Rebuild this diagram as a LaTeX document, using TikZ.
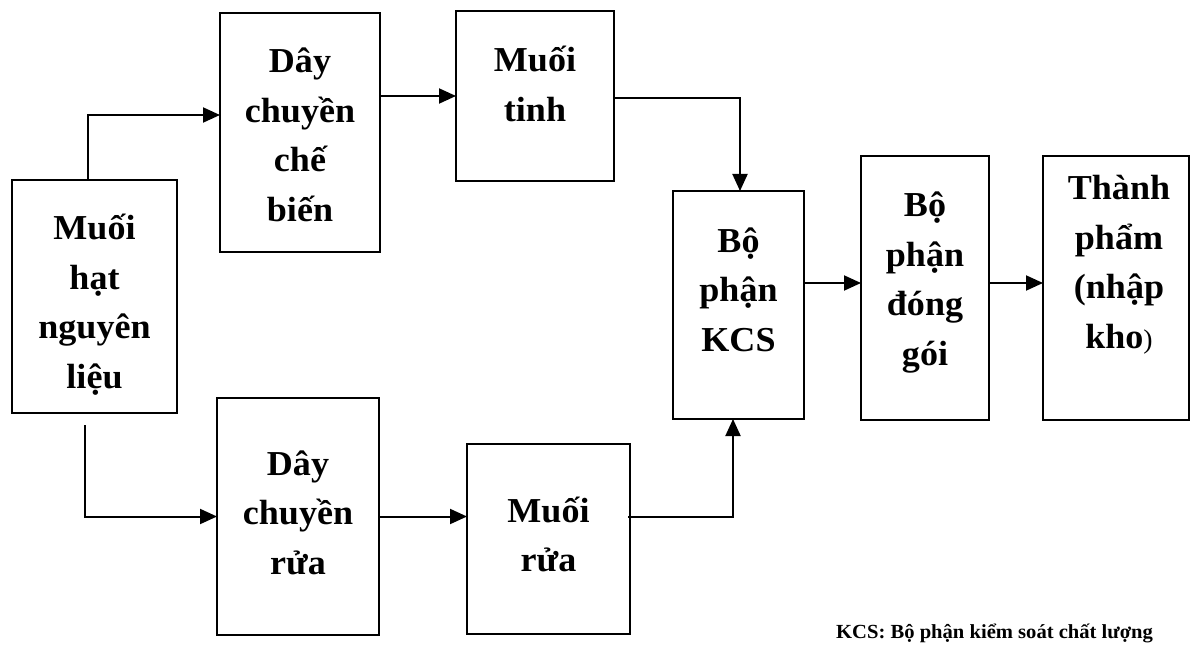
\documentclass[tikz,border=0pt]{standalone}
\usepackage{fontspec}
\setmainfont{Liberation Serif}[FakeStretch=1.03]
\usetikzlibrary{arrows.meta}
\tikzset{
  box/.style={draw, line width=2pt, inner sep=0pt, outer sep=0pt},
  txt/.style={font=\bfseries\fontsize{35}{49.5}\selectfont, align=center, inner sep=0pt, anchor=base},
  arr/.style={line width=2pt, -{Triangle[length=17pt,width=15pt]}}
}
\begin{document}
\begin{tikzpicture}[x=1pt,y=-1pt]
\useasboundingbox (0,0) rectangle (1190,652);
% boxes
\node[box, minimum width=165pt, minimum height=233pt] (b1) at (94.5,296.5) {};
\node[box, minimum width=160pt, minimum height=239pt] (b2) at (300,132.5) {};
\node[box, minimum width=162pt, minimum height=237pt] (b3) at (298,516.5) {};
\node[box, minimum width=158pt, minimum height=170pt] (b4) at (535,96) {};
\node[box, minimum width=163pt, minimum height=190pt] (b5) at (548.5,539) {};
\node[box, minimum width=131pt, minimum height=228pt] (b6) at (738.5,305) {};
\node[box, minimum width=128pt, minimum height=264pt] (b7) at (925,288) {};
\node[box, minimum width=146pt, minimum height=264pt] (b8) at (1116,288) {};
% texts
\node[txt, text width=150pt] (t1) at (94.5,240) {Muối\\hạt\\nguyên\\liệu};
\node[txt, text width=150pt] (t2) at (300,73) {Dây\\chuyền\\chế\\biến};
\node[txt, text width=150pt] (t3) at (298,475) {Dây\\chuyền\\rửa};
\node[txt, text width=150pt] (t4) at (535,72) {Muối\\tinh};
\node[txt, text width=150pt] (t5) at (548.5,522) {Muối\\rửa};
\node[txt, text width=125pt] (t6) at (738.5,252) {Bộ\\phận\\KCS};
\node[txt, text width=120pt] (t7) at (925,217) {Bộ\\phận\\đóng\\gói};
\node[txt, text width=140pt] (t8) at (1119,200) {Thành\\phẩm\\(nhập\\kho{\fontseries{m}\fontsize{27}{27}\selectfont)}};
\node[font=\bfseries\fontsize{20}{24}\selectfont, inner sep=0pt, anchor=base west] (note) at (836,638) {KCS: Bộ phận kiểm soát chất lượng};
% connectors
\draw[arr] ([xshift=-6.5pt]b1.north) |- ([yshift=17.5pt]b2.west);
\draw[arr] ([xshift=-9.5pt,yshift=-12pt]b1.south) |- (b3.west);
\draw[arr] (b2.east |- b4.west) -- (b4.west);
\draw[arr] ([yshift=-2pt]b4.east) -| ([xshift=1.5pt]b6.north);
\draw[arr] (b3.east) -- (b3.east -| b5.west);
\draw[arr] ([xshift=-2pt]b5.east |- b3.east) -| ([xshift=-5.5pt]b6.south);
\draw[arr] ([yshift=5pt]b7.west -| b6.east) -- ([yshift=5pt]b7.west);
\draw[arr] ([yshift=5pt]b7.east) -- ([yshift=5pt]b8.west);
\end{tikzpicture}
\end{document}
